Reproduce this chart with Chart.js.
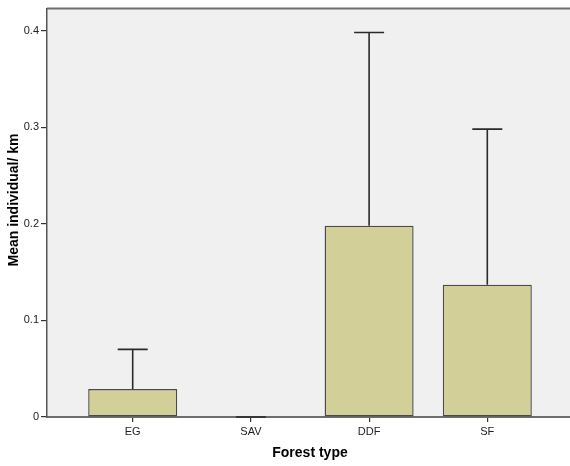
<!DOCTYPE html>
<html>
<head>
<meta charset="utf-8">
<script src="https://cdn.jsdelivr.net/npm/chart.js@4/dist/chart.umd.min.js"></script>
<style>
html,body{margin:0;padding:0;background:#fff;overflow:hidden;width:570px;height:466px;}
#wrap{width:574px;height:466px;}
</style>
</head>
<body>
<div id="wrap"><canvas id="c" width="574" height="466" style="width:574px;height:466px"></canvas></div>
<script>
const categories = ['EG', 'SAV', 'DDF', 'SF'];
const means = [0.029, 0.0, 0.198, 0.137];
const upperErr = [0.070, 0.0, 0.398, 0.298];
const yTicks = [0, 0.1, 0.2, 0.3, 0.4];
const xTitle = 'Forest type';
const yTitle = 'Mean individual/ km';

const FONT = "'Liberation Sans', Arial, sans-serif";

const bgPlugin = {
  id: 'bg',
  beforeDraw(chart) {
    const {ctx, chartArea: a} = chart;
    ctx.save();
    ctx.fillStyle = '#f0f0f0';
    ctx.fillRect(a.left, a.top, a.right - a.left, a.bottom - a.top);
    ctx.strokeStyle = '#6e6e6e';
    ctx.lineWidth = 2;
    ctx.beginPath();
    ctx.moveTo(a.left, a.top);
    ctx.lineTo(a.right, a.top);
    ctx.stroke();
    ctx.restore();
  },
  afterDraw(chart) {
    const {ctx, chartArea: a} = chart;
    ctx.save();
    ctx.fillStyle = '#000';
    ctx.font = 'bold 14px ' + FONT;
    ctx.textAlign = 'center';
    ctx.textBaseline = 'middle';
    ctx.fillText(xTitle, 310, 453);
    ctx.translate(14, 200);
    ctx.rotate(-Math.PI / 2);
    ctx.fillText(yTitle, 0, 0);
    ctx.restore();
  }
};

const errPlugin = {
  id: 'err',
  afterDatasetsDraw(chart) {
    const {ctx} = chart;
    const meta = chart.getDatasetMeta(0);
    const ys = chart.scales.y;
    ctx.save();
    ctx.strokeStyle = '#2a2a2a';
    ctx.lineWidth = 1.6;
    meta.data.forEach((bar, i) => {
      const x = bar.x;
      const y0 = ys.getPixelForValue(means[i]);
      const y1 = ys.getPixelForValue(upperErr[i]);
      ctx.beginPath();
      ctx.moveTo(x, y0);
      ctx.lineTo(x, y1);
      ctx.moveTo(x - 15, y1);
      ctx.lineTo(x + 15, y1);
      ctx.stroke();
    });
    ctx.restore();
  }
};

new Chart(document.getElementById('c'), {
  type: 'bar',
  data: {
    datasets: [{
      data: categories.map((c, i) => ({x: i + 1, y: means[i]})),
      backgroundColor: '#d3cf98',
      borderColor: '#4a4a4a',
      borderWidth: 1.4,
      borderSkipped: false,
      barPercentage: 0.753,
      categoryPercentage: 1
    }]
  },
  options: {
    responsive: false,
    animation: false,
    events: [],
    layout: {padding: {left: 0, right: 1, top: 7, bottom: 0}},
    plugins: {legend: {display: false}, tooltip: {enabled: false}},
    scales: {
      x: {
        type: 'linear',
        offset: false,
        min: 0.275,
        max: 4.725,
        afterFit(s) { s.height = 49; },
        afterBuildTicks(s) { s.ticks = categories.map((c, i) => ({value: i + 1})); },
        ticks: {
          autoSkip: false,
          maxRotation: 0,
          padding: 3,
          color: '#222',
          font: {family: FONT, size: 11},
          callback: (v) => categories[v - 1] || ''
        },
        grid: {offset: false, drawOnChartArea: false, tickLength: 5, color: '#333', lineWidth: 1.2},
        border: {display: true, color: '#6e6e6e', width: 2}
      },
      y: {
        min: 0,
        max: 0.4227,
        afterFit(s) { s.width = 47; },
        afterBuildTicks(s) { s.ticks = yTicks.map(v => ({value: v})); },
        ticks: {
          padding: 2,
          color: '#222',
          font: {family: FONT, size: 11},
          callback: (v) => v === 0 ? '0' : v.toFixed(1)
        },
        grid: {drawOnChartArea: false, tickLength: 6, color: '#333', lineWidth: 1.2},
        border: {display: true, color: '#555', width: 1.5}
      }
    }
  },
  plugins: [bgPlugin, errPlugin]
});
</script>
</body>
</html>
